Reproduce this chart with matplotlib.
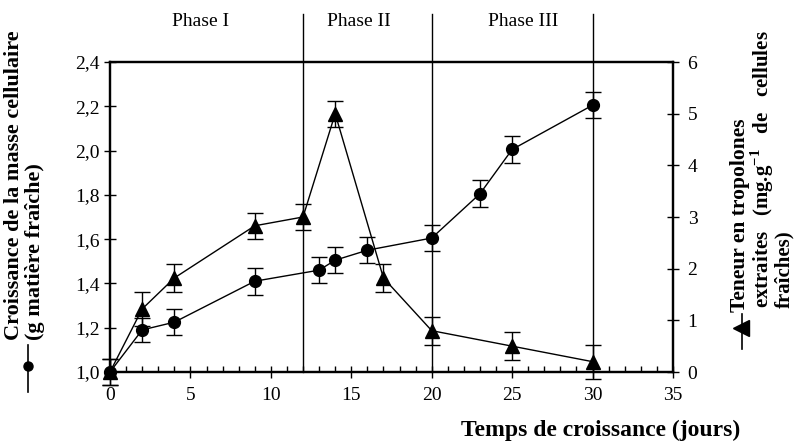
import matplotlib
matplotlib.use("Agg")
import matplotlib.pyplot as plt
from matplotlib.ticker import FuncFormatter, MultipleLocator
from matplotlib.lines import Line2D
import matplotlib.transforms as mtransforms

plt.rcParams['font.family'] = ['Liberation Serif', 'DejaVu Serif']
plt.rcParams['mathtext.fontset'] = 'custom'
plt.rcParams['mathtext.rm'] = 'Liberation Serif'
plt.rcParams['mathtext.bf'] = 'Liberation Serif:bold'

# ---- data ----
days_mass = [0, 2, 4, 9, 13, 14, 16, 20, 23, 25, 30]
mass = [1.00, 1.19, 1.225, 1.41, 1.46, 1.505, 1.55, 1.605, 1.805, 2.005, 2.205]
mass_err = [0.06, 0.056, 0.06, 0.06, 0.06, 0.06, 0.06, 0.06, 0.06, 0.06, 0.06]

days_trop = [0, 2, 4, 9, 12, 14, 17, 20, 25, 30]
trop = [0.0, 1.22, 1.82, 2.83, 3.0, 5.0, 1.82, 0.8, 0.5, 0.2]
trop_err = [0.25, 0.33, 0.27, 0.25, 0.25, 0.25, 0.27, 0.27, 0.27, 0.33]

phase_bounds = [12, 20, 30]
phase_labels = ["Phase I", "Phase II", "Phase III"]
phase_label_x = [5.6, 15.5, 25.7]

left_ticks = [1.0, 1.2, 1.4, 1.6, 1.8, 2.0, 2.2, 2.4]
right_ticks = [0, 1, 2, 3, 4, 5, 6]
x_ticks = [0, 5, 10, 15, 20, 25, 30, 35]

W, H = 803, 444
fig = plt.figure(figsize=(W / 100, H / 100), dpi=100)
ax = fig.add_axes([110 / W, (H - 372) / H, (673 - 110) / W, (372 - 62) / H])
ax2 = ax.twinx()

tick_fs = 14
lab_fs = 16
rlab_fs = 15
comma = FuncFormatter(lambda v, p: ("%.1f" % v).replace('.', ','))

# left axis: mass
ax.errorbar(days_mass, mass, yerr=mass_err, color='black', lw=1.0,
            marker='o', markersize=8.5, capsize=5.5, capthick=1.0,
            elinewidth=1.0, clip_on=False, zorder=3)
ax.set_xlim(0, 35)
ax.set_ylim(1.0, 2.4)
ax.set_yticks(left_ticks)
ax.yaxis.set_major_formatter(comma)
ax.set_xticks(x_ticks)
ax.xaxis.set_minor_locator(MultipleLocator(1))

# right axis: tropolones
ax2.errorbar(days_trop, trop, yerr=trop_err, color='black', lw=1.0,
             marker='^', markersize=9.5, capsize=5.5, capthick=1.0,
             elinewidth=1.0, clip_on=False, zorder=3)
ax2.set_ylim(0, 6)
ax2.set_yticks(right_ticks)

for a in (ax, ax2):
    for s in a.spines.values():
        s.set_linewidth(1.6)
ax.tick_params(axis='y', direction='inout', length=9, width=1.0,
               labelsize=tick_fs, pad=3)
ax.tick_params(axis='x', which='major', direction='inout', length=9,
               width=1.0, labelsize=tick_fs, pad=6)
ax.tick_params(axis='x', which='minor', direction='in', length=4, width=1.0)
ax2.tick_params(axis='y', direction='inout', length=9, width=1.0,
                labelsize=tick_fs, pad=6)

# phase separators extending above the frame
trans = mtransforms.blended_transform_factory(ax.transData, ax.transAxes)
for b in phase_bounds:
    ax.plot([b, b], [0, 1.155], color='black', lw=1.0, transform=trans,
            clip_on=False, zorder=2)
for lab, xp in zip(phase_labels, phase_label_x):
    ax.text(xp, (372 - 22) / 310, lab, transform=trans, ha='center',
            va='center', fontsize=14)

# x label
fig.text(740 / W, (H - 430) / H, "Temps de croissance (jours)",
         ha='right', va='center', fontsize=17, fontweight='bold')

# left label + legend symbol
fig.text(14 / W, (H - 340) / H, "Croissance de la masse cellulaire",
         rotation=90, ha='center', va='bottom', fontsize=lab_fs,
         fontweight='bold')
fig.text(35 / W, (H - 340) / H, "(g matière fraîche)",
         rotation=90, ha='center', va='bottom', fontsize=lab_fs,
         fontweight='bold')
fig.add_artist(Line2D([28 / W, 28 / W], [(H - 345) / H, (H - 392) / H],
                      transform=fig.transFigure, color='black', lw=1.2))
fig.add_artist(Line2D([28 / W], [(H - 366) / H], transform=fig.transFigure,
                      color='black', marker='o', markersize=6.5, lw=0))

# right label + legend symbol
fig.text(740 / W, (H - 312) / H, "Teneur en tropolones",
         rotation=90, ha='center', va='bottom', fontsize=rlab_fs + 0.5,
         fontweight='bold')
fig.text(762 / W, (H - 308) / H,
         r"extraites   (mg.g$^{\mathbf{-1}}$   de   cellules",
         rotation=90, ha='center', va='bottom', fontsize=rlab_fs,
         fontweight='bold')
fig.text(784 / W, (H - 308) / H, "fraîches)",
         rotation=90, ha='center', va='bottom', fontsize=rlab_fs,
         fontweight='bold')
fig.add_artist(Line2D([742 / W, 742 / W], [(H - 314) / H, (H - 349) / H],
                      transform=fig.transFigure, color='black', lw=1.2))
fig.add_artist(Line2D([741 / W], [(H - 328) / H], transform=fig.transFigure,
                      color='black', marker='<', markersize=11, lw=0))

fig.savefig("out.png", dpi=100)
